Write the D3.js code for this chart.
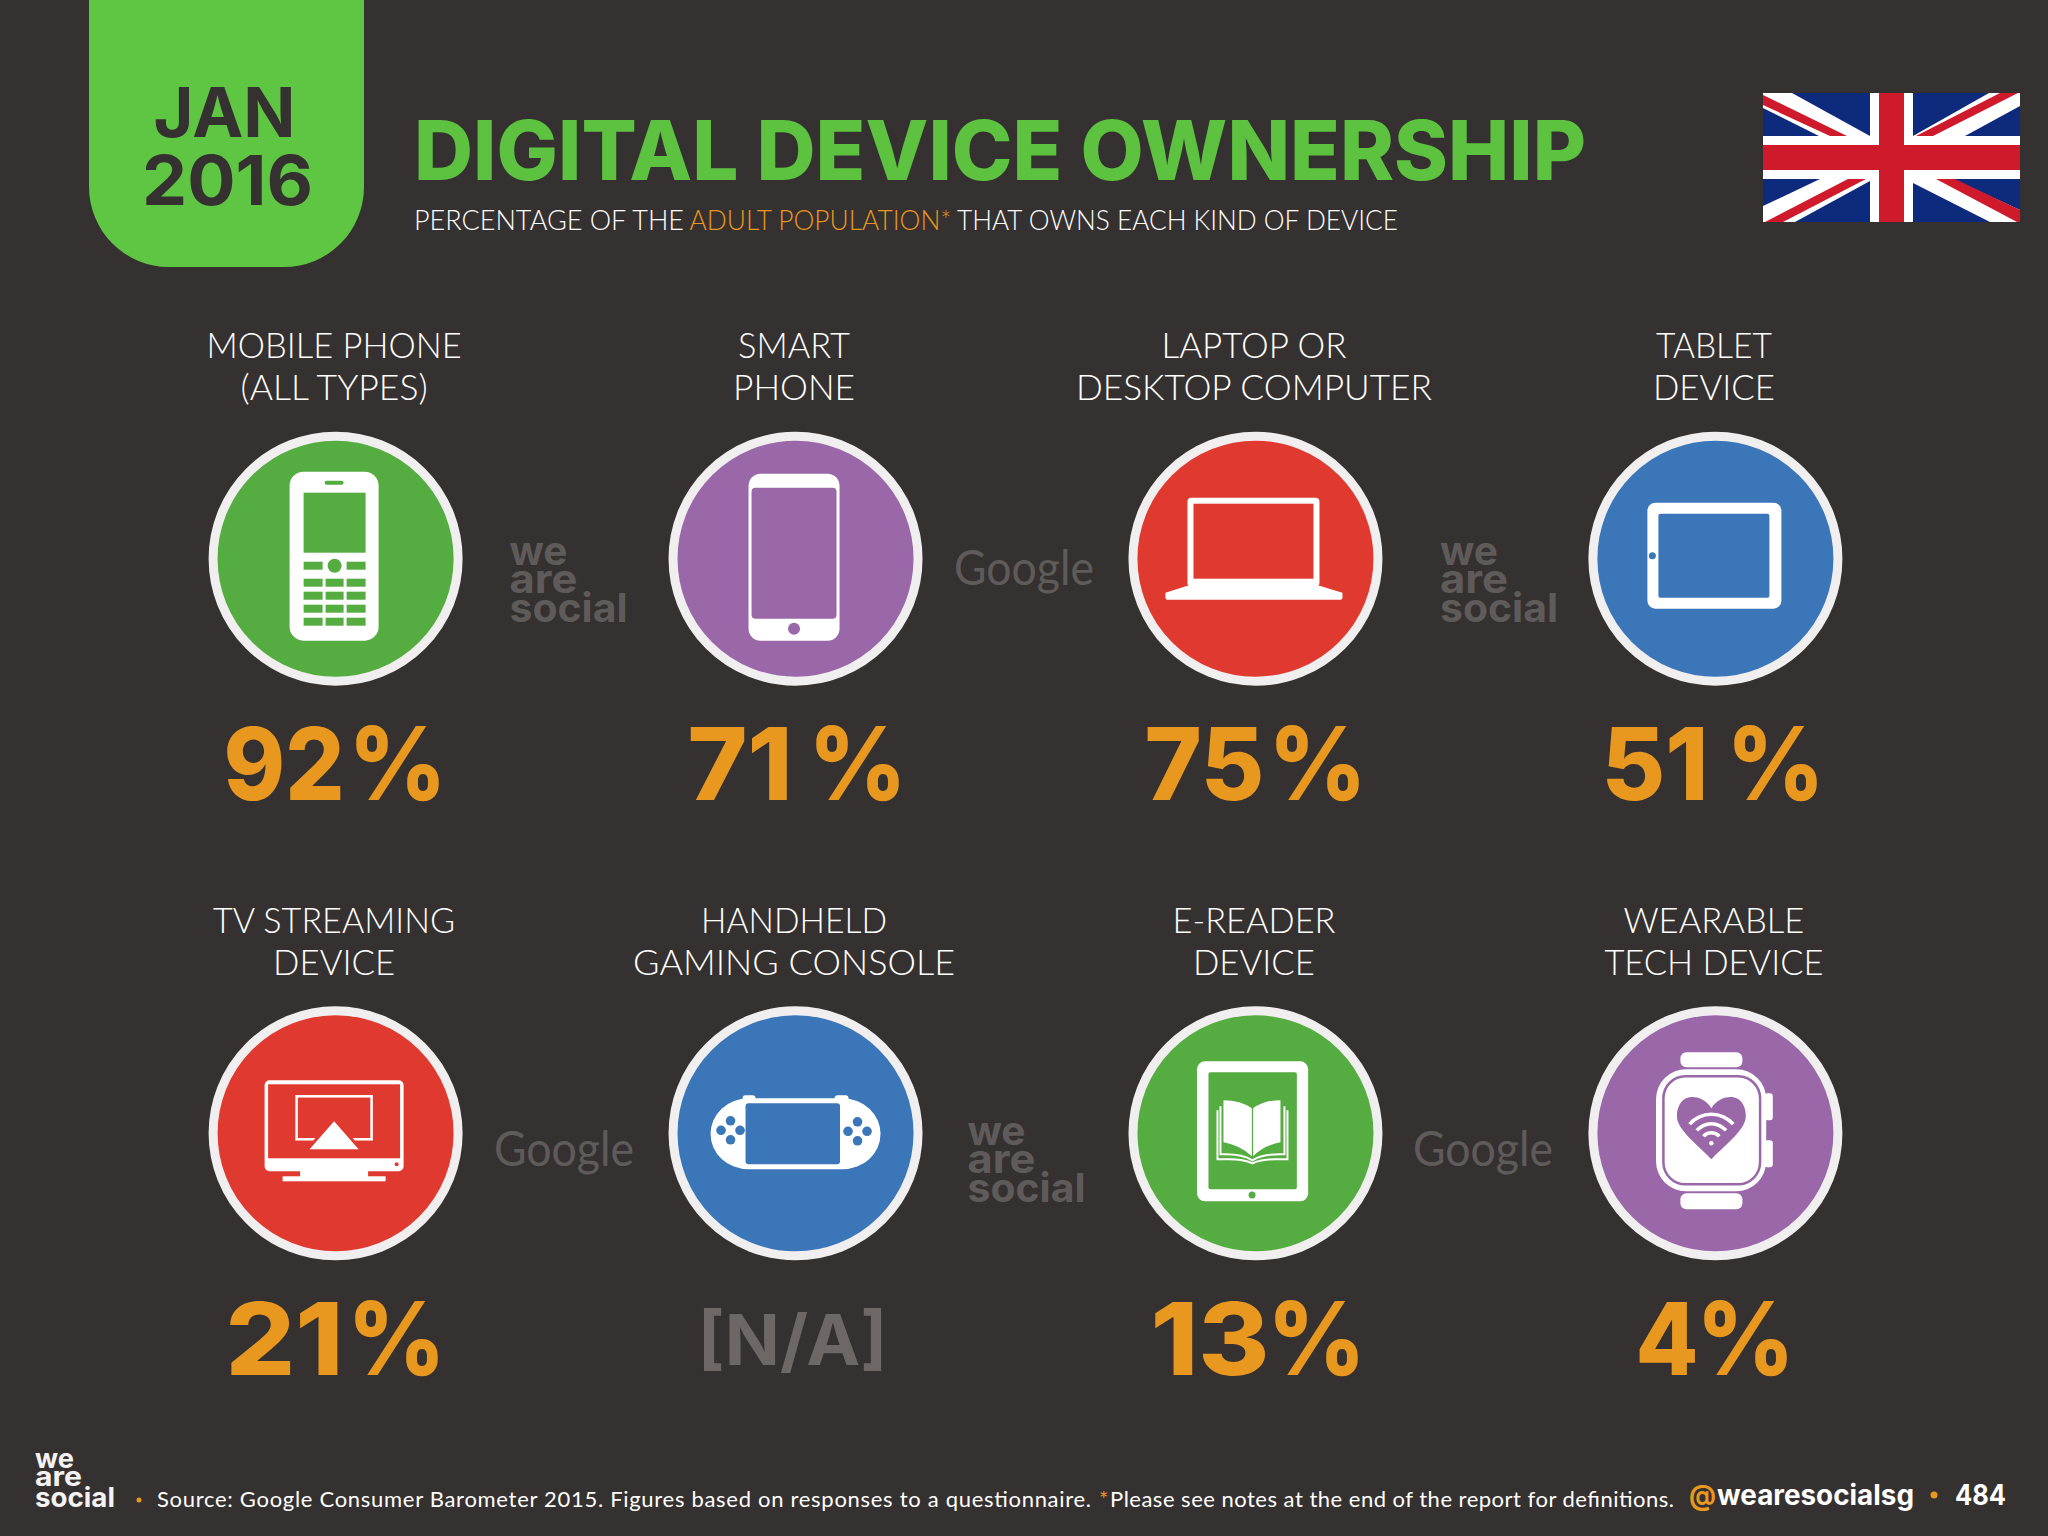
<!DOCTYPE html>
<html>
<head>
<meta charset="utf-8">
<script src="https://cdn.jsdelivr.net/npm/d3@7"></script>
<style>
  html, body { margin: 0; padding: 0; background: #353130; }
  svg { display: block; }
</style>
</head>
<body>
<div id="chart"></div>
<script>
// Chart data
const categories = ['mobile', 'smartphone', 'computer', 'tablet', 'tv', 'console', 'ereader', 'wearable'];
const labelLine1 = ['MOBILE PHONE', 'SMART', 'LAPTOP OR', 'TABLET', 'TV STREAMING', 'HANDHELD', 'E-READER', 'WEARABLE'];
const labelLine2 = ['(ALL TYPES)', 'PHONE', 'DESKTOP COMPUTER', 'DEVICE', 'DEVICE', 'GAMING CONSOLE', 'DEVICE', 'TECH DEVICE'];
const values = [92, 71, 75, 51, 21, null, 13, 4];
const columns = [0, 1, 2, 3];
const rows = [0, 1];

// Layout and colours, kept apart from the data
const width = 2048;
const height = 1536;
const background = '#353130';
const orange = '#e8981f';
const green = '#5fc644';
const watermark = '#5f5b5a';
const circleFills = ['#55ac41', '#9a68a8', '#e03a30', '#3b76b9', '#e03a30', '#3b76b9', '#55ac41', '#9a68a8'];
const line1Widths = [255, 112, 185, 116, 242, 186, 163, 181];
const line2Widths = [187, 122, 356, 122, 122, 322, 122, 219];
// start and width of the digits and start of the % sign, from the column centre
const digitStarts = [-112, -108, -111, -114, -110, 0, -105, -80];
const digitWidths = [121, 105, 120, 107, 118, 0, 119, 63];
const percentStarts = [13, 13, 13, 11, 12, 0, 12, -19];
const percentWidth = 98;

const x = d3.scalePoint().domain(columns).range([335.6, 1715.4]);
const y = d3.scalePoint().domain(rows).range([558.7, 1133.3]);
const fill = d3.scaleOrdinal().domain(categories).range(circleFills);
const percent = d3.format('d');

const svg = d3.select('#chart')
  .append('svg')
  .attr('width', width)
  .attr('height', height)
  .attr('viewBox', `0 0 ${width} ${height}`);

svg.append('rect').attr('width', width).attr('height', height).attr('fill', background);

// Text helper: squeezes a string to the width it has in the picture
function addText(parent, str, px, py, o) {
  const t = parent.append('text')
    .attr('x', px)
    .attr('y', py)
    .attr('font-family', o.font || 'Inter')
    .attr('font-size', o.size)
    .attr('font-weight', o.weight || 400)
    .attr('fill', o.fill || '#fff')
    .attr('text-anchor', o.anchor || 'start')
    .text(str);
  if (o.w) {
    t.attr('textLength', o.w).attr('lengthAdjust', o.adjust || 'spacingAndGlyphs');
  }
  return t;
}

// Header
svg.append('path')
  .attr('d', 'M89,0 H364 V187 A80,80 0 0 1 284,267 H169 A80,80 0 0 1 89,187 Z')
  .attr('fill', green);
addText(svg, 'JAN', 153.5, 137, { size: 69, weight: 700, fill: background, w: 142 });
addText(svg, '2016', 142, 205, { size: 69, weight: 700, fill: background, w: 171 });
addText(svg, 'DIGITAL DEVICE OWNERSHIP', 414, 180, { size: 83, weight: 800, fill: '#5cc23f', w: 1172 });

const subFont = { font: 'Lato', size: 28, weight: 300 };
addText(svg, 'PERCENTAGE OF THE', 414, 230, { ...subFont, w: 270 });
addText(svg, 'ADULT POPULATION*', 689.5, 230, { ...subFont, fill: orange, w: 262 });
addText(svg, 'THAT OWNS EACH KIND OF DEVICE', 957, 230, { ...subFont, w: 441 });

// Flag
const flag = svg.append('g').attr('transform', 'translate(1763,93)');
const flagBlue = '#0d2a7c';
const flagRed = '#cf1a2b';
flag.append('rect').attr('width', 257).attr('height', 129).attr('fill', flagBlue);
const flagWhite = [
  [[0, 0], [29, 0], [107, 43], [56, 43], [0, 15]],
  [[226, 0], [257, 0], [257, 13], [202, 43], [150, 43]],
  [[0, 113], [57, 86], [107, 86], [107, 88], [32, 129], [0, 129]],
  [[150, 86], [190, 86], [257, 117], [257, 129], [227, 129], [150, 90]]
];
const flagCross = [
  [[0, 2], [0, 12], [67, 43], [84, 43]],
  [[237, 0], [255, 0], [170, 43], [153, 43]],
  [[2, 129], [20, 129], [103, 86], [85, 86]],
  [[173, 86], [192, 86], [257, 117], [257, 129], [254, 129]]
];
flag.selectAll('.white').data(flagWhite).join('polygon').attr('points', d => d.join(' ')).attr('fill', '#fff');
flag.selectAll('.red').data(flagCross).join('polygon').attr('class', 'red').attr('points', d => d.join(' ')).attr('fill', flagRed);
flag.append('rect').attr('x', 107).attr('width', 43).attr('height', 129).attr('fill', '#fff');
flag.append('rect').attr('y', 43).attr('width', 257).attr('height', 43).attr('fill', '#fff');
flag.append('rect').attr('x', 116).attr('width', 25).attr('height', 129).attr('fill', flagRed);
flag.append('rect').attr('y', 52).attr('width', 257).attr('height', 25).attr('fill', flagRed);

// Icon helpers, coordinates are relative to the circle centre
function box(g, x0, y0, x1, y1, r, color) {
  return g.append('rect')
    .attr('x', x0).attr('y', y0)
    .attr('width', x1 - x0).attr('height', y1 - y0)
    .attr('rx', r || 0)
    .attr('fill', color);
}
function dot(g, cx, cy, r, color) {
  return g.append('circle').attr('cx', cx).attr('cy', cy).attr('r', r).attr('fill', color);
}

const icons = {
  mobile(g, c) {
    box(g, -46, -87, 43, 82, 14, '#fff');
    box(g, -11, -78, 8, -74, 2, c);
    box(g, -32, -66, 30, -6, 0, c);
    box(g, -32, 3, -13, 11, 0, c);
    box(g, 11, 3, 30, 11, 0, c);
    dot(g, -1, 7, 7, c);
    [20, 33, 46, 59].forEach(ky => {
      [[-32, -13], [-10, 8], [11, 30]].forEach(k => box(g, k[0], ky, k[1], ky + 8, 0, c));
    });
  },
  smartphone(g, c) {
    box(g, -47, -85, 44, 82, 12, '#fff');
    box(g, -44, -71, 41, 60, 4, c);
    dot(g, -1.5, 70, 6, c);
  },
  computer(g, c) {
    box(g, -68, -61, 64, 28, 4, '#fff');
    box(g, -62, -55, 58, 20, 0, c);
    g.append('path')
      .attr('d', 'M-68,27 L-90,34 V39 Q-90,41 -88,41 H85 Q87,41 87,39 V34 L64,27 Z')
      .attr('fill', '#fff');
  },
  tablet(g, c) {
    box(g, -68, -56, 66, 50, 8, '#fff');
    box(g, -57, -45, 54, 39, 2, c);
    dot(g, -63, -3, 3.5, c);
  },
  tv(g, c) {
    box(g, -71, -53, 68, 38, 5, '#fff');
    box(g, -67.5, -49, 64.5, 25, 0, c);
    dot(g, 61, 31, 2, c);
    box(g, -35.5, 37, 32.5, 44, 0, '#fff');
    box(g, -53, 43, 50, 48, 0, '#fff');
    g.append('rect')
      .attr('x', -39).attr('y', -37).attr('width', 75).attr('height', 43)
      .attr('fill', 'none').attr('stroke', '#fff').attr('stroke-width', 2.5);
    g.append('path').attr('d', 'M-1.5,-14 L24,17 H-27 Z').attr('fill', c).attr('stroke', c).attr('stroke-width', 5);
    g.append('path').attr('d', 'M-1.5,-12 L23,16 H-26 Z').attr('fill', '#fff');
  },
  console(g, c) {
    box(g, -53, -38, -40, -28, 3, '#fff');
    box(g, 39, -38, 53, -28, 3, '#fff');
    box(g, -85, -35, 85, 36, 38, '#fff');
    box(g, -50, -30, 44.5, 31, 3, c);
    [[0, -9.5], [0, 9.5], [-9.5, 0], [9.5, 0]].forEach(k => {
      dot(g, -65 + k[0], -3 + k[1], 4.8, c);
      dot(g, 62 + k[0], -2 + k[1], 4.8, c);
    });
  },
  ereader(g, c) {
    box(g, -58.5, -72, 52.7, 68, 8, '#fff');
    box(g, -47, -61, 41.4, 56, 2, c);
    dot(g, -3.4, 61.7, 3.5, c);
    g.append('path').attr('d', 'M-32,-33 Q-15,-33 -3.6,-25 V23 Q-15,12 -32,9 Z').attr('fill', '#fff');
    g.append('path').attr('d', 'M25,-33 Q8,-33 -2.4,-25 V23 Q8,12 25,9 Z').attr('fill', '#fff');
    const under = g.append('g').attr('fill', 'none').attr('stroke', '#fff').attr('stroke-width', 2);
    under.append('path').attr('d', 'M-38,-23 V26 H-26 Q-12,26 -3,30 Q6,26 20,26 H32 V-23');
    under.append('path').attr('d', 'M-35,-27 V21 Q-14,20 -3,27 Q8,20 29,21 V-27');
  },
  wearable(g, c) {
    box(g, -35, -81, 27, -66, 6, '#fff');
    box(g, -35, 60, 27, 76, 6, '#fff');
    box(g, 49, -40, 57.4, -13, 3, '#fff');
    box(g, 49, 7, 57.4, 34, 3, '#fff');
    box(g, -59.4, -64, 50.8, 58, 30, '#fff');
    g.append('rect')
      .attr('x', -52).attr('y', -57).attr('width', 96.7).attr('height', 108).attr('rx', 22)
      .attr('fill', 'none').attr('stroke', c).attr('stroke-width', 2.5);
    g.append('path')
      .attr('d', 'M-4,-25 C-10,-35 -20,-37 -26,-36 C-36,-34 -38.5,-24 -38.5,-17 C-38.5,-3 -15,14 -4,26 C7,14 30.4,-3 30.4,-17 C30.4,-24 28,-34 18,-36 C12,-37 2,-35 -4,-25 Z')
      .attr('fill', c);
    const wifi = d3.arc().startAngle(-0.85).endAngle(0.85);
    [29, 19.5, 10.5].forEach(r => {
      g.append('path')
        .attr('transform', 'translate(-4,10)')
        .attr('d', wifi({ innerRadius: r - 1.8, outerRadius: r + 1.8 }))
        .attr('fill', '#fff');
    });
    dot(g, -4, 10, 2.2, '#fff');
  }
};

// One cell per device: label, circle, icon, value
const cell = svg.selectAll('.cell')
  .data(categories)
  .join('g')
  .attr('class', 'cell')
  .attr('transform', (d, i) => `translate(${x(i % 4)},${y(Math.floor(i / 4))})`);

cell.append('circle')
  .attr('r', 122.5)
  .attr('fill', d => fill(d))
  .attr('stroke', '#f0eeee')
  .attr('stroke-width', 9);

cell.each(function (d) {
  icons[d](d3.select(this), fill(d));
});

const labelFont = { font: 'Lato', size: 36, weight: 300, anchor: 'middle' };
cell.each(function (d, i) {
  const g = d3.select(this);
  addText(g, labelLine1[i], -1.5, -200.7, { ...labelFont, w: line1Widths[i] });
  addText(g, labelLine2[i], -1.5, -158.7, { ...labelFont, w: line2Widths[i] });
  if (values[i] === null) {
    addText(g, '[N/A]', -3, 231.7, { size: 70, weight: 700, anchor: 'middle', fill: '#6d6866', w: 190 });
  } else {
    // digits and % sign have their own widths in the picture
    const t = addText(g, '', 0, 241.3, { size: 100, weight: 800, fill: orange });
    t.append('tspan')
      .attr('x', digitStarts[i])
      .attr('textLength', digitWidths[i])
      .attr('lengthAdjust', 'spacingAndGlyphs')
      .text(percent(values[i]));
    t.append('tspan')
      .attr('x', percentStarts[i])
      .attr('font-size', 102)
      .attr('textLength', percentWidth)
      .attr('lengthAdjust', 'spacingAndGlyphs')
      .text('%');
  }
});

// Grey source marks between the circles, one text with a line per word
function wordmark(px, baselines, size, widths, color) {
  const t = addText(svg, '', px, baselines[0], { size: size, weight: 700, fill: color });
  ['we', 'are', 'social'].forEach((word, i) => {
    t.append('tspan')
      .attr('x', px)
      .attr('y', baselines[i])
      .attr('textLength', widths[i])
      .attr('lengthAdjust', 'spacingAndGlyphs')
      .text(word);
  });
}
const markWidths = [58, 68, 118];
wordmark(509.5, [565, 593, 622], 40, markWidths, watermark);
wordmark(1440, [565, 593, 622], 40, markWidths, watermark);
wordmark(967.5, [1145, 1173, 1202], 40, markWidths, watermark);

const googleFont = { font: 'Lato', size: 48, weight: 400, fill: watermark, w: 140 };
addText(svg, 'Google', 954, 585, googleFont);
addText(svg, 'Google', 494, 1166, googleFont);
addText(svg, 'Google', 1413, 1166, googleFont);

// Footer
wordmark(35, [1468, 1486, 1507], 27, [39, 47, 80], '#f4f2f2');
svg.append('circle').attr('cx', 139).attr('cy', 1500).attr('r', 2.5).attr('fill', orange);
const footFont = { font: 'Lato', size: 22, weight: 400, adjust: 'spacing' };
addText(svg, 'Source: Google Consumer Barometer 2015. Figures based on responses to a questionnaire.', 157, 1507, { ...footFont, w: 934 });
addText(svg, '*', 1099, 1507, { ...footFont, fill: orange });
addText(svg, 'Please see notes at the end of the report for definitions.', 1110, 1507, { ...footFont, w: 564 });
addText(svg, '@', 1689, 1505, { size: 28, weight: 700, fill: orange, w: 27 });
addText(svg, 'wearesocialsg', 1717, 1505, { size: 28, weight: 700, w: 197 });
svg.append('circle').attr('cx', 1934).attr('cy', 1495).attr('r', 3.5).attr('fill', orange);
addText(svg, '484', 1955, 1505, { size: 28, weight: 700, w: 51 });
</script>
</body>
</html>
